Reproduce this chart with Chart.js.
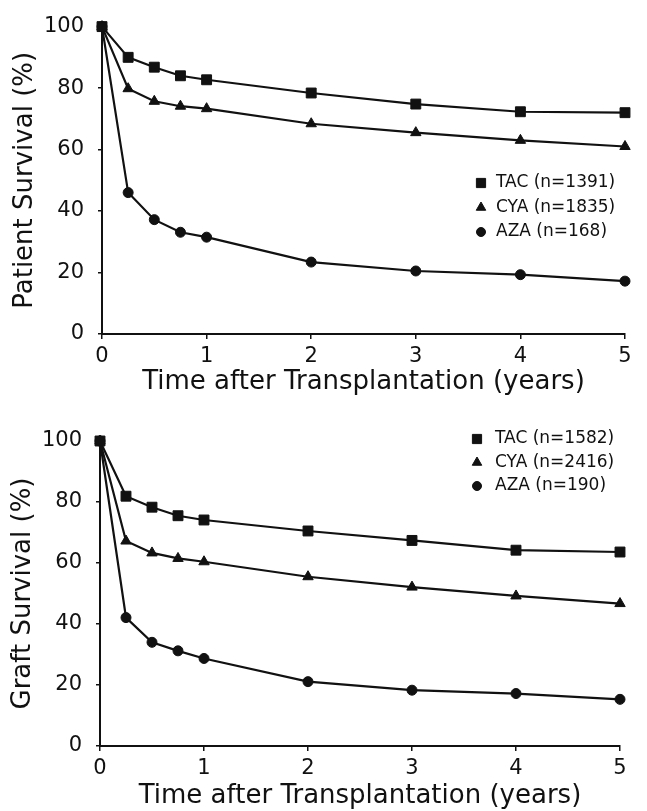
<!DOCTYPE html>
<html>
<head>
<meta charset="utf-8">
<script src="https://cdn.jsdelivr.net/npm/chart.js@4.4.1/dist/chart.umd.min.js"></script>
<style>
  html, body { margin: 0; padding: 0; background: #fff; }
  #wrap { position: relative; width: 647px; height: 811px; }
  canvas { position: absolute; left: 0; }
</style>
</head>
<body>
<div id="wrap">
  <canvas id="chartPatient" width="647" height="400" style="top:0"></canvas>
  <canvas id="chartGraft" width="647" height="411" style="top:400px"></canvas>
</div>
<script>
// data
const years = [0, 0.25, 0.5, 0.75, 1, 2, 3, 4, 5];
const xTicks = [0, 1, 2, 3, 4, 5];
const yTicks = [0, 20, 40, 60, 80, 100];

const patientTAC = [100, 90.0, 86.8, 84.0, 82.7, 78.4, 74.8, 72.3, 72.0];
const patientCYA = [100, 79.8, 75.7, 74.1, 73.3, 68.4, 65.5, 63.0, 61.0];
const patientAZA = [100, 46.0, 37.2, 33.1, 31.5, 23.4, 20.5, 19.3, 17.2];
const patientLabels = ["TAC (n=1391)", "CYA (n=1835)", "AZA (n=168)"];

const graftTAC = [100, 81.9, 78.3, 75.5, 74.1, 70.5, 67.4, 64.2, 63.6];
const graftCYA = [100, 67.2, 63.3, 61.5, 60.4, 55.5, 52.1, 49.2, 46.7];
const graftAZA = [100, 42.1, 34.0, 31.2, 28.7, 21.1, 18.3, 17.2, 15.3];
const graftLabels = ["TAC (n=1582)", "CYA (n=2416)", "AZA (n=190)"];

const INK = "#111";
const FONT = "'DejaVu Sans', sans-serif";

function pts(vals) {
  return years.map((x, i) => ({ x, y: vals[i] }));
}

function series(label, vals, style, radius) {
  return {
    label,
    data: pts(vals),
    borderColor: INK,
    backgroundColor: INK,
    borderWidth: 2.2,
    tension: 0,
    pointStyle: style,
    pointRadius: radius,
    pointBorderWidth: 1,
    pointBorderColor: INK,
    pointBackgroundColor: INK,
    clip: false
  };
}

// legend drawn inside the plot area
const inlineLegend = {
  id: "inlineLegend",
  afterDatasetsDraw(chart, args, opts) {
    const ctx = chart.ctx;
    ctx.save();
    ctx.fillStyle = INK;
    ctx.strokeStyle = INK;
    ctx.lineWidth = 1;
    ctx.font = "17px " + FONT;
    ctx.textBaseline = "middle";
    ctx.textAlign = "left";
    chart.data.datasets.forEach((ds, i) => {
      const y = opts.y + i * opts.gap;
      Chart.helpers.drawPoint(ctx, {
        pointStyle: ds.pointStyle,
        radius: ds.pointRadius - 0.5,
        borderWidth: 1,
        rotation: 0
      }, opts.markerX, y);
      ctx.fillText(ds.label, opts.textX, y);
    });
    ctx.restore();
  }
};

function makeChart(id, cfg) {
  const H = cfg.height;
  return new Chart(document.getElementById(id), {
    type: "line",
    data: {
      datasets: [
        series(cfg.labels[0], cfg.tac, "rect", 7),
        series(cfg.labels[1], cfg.cya, "triangle", 6),
        series(cfg.labels[2], cfg.aza, "circle", 5)
      ]
    },
    options: {
      responsive: false,
      animation: false,
      layout: { padding: { top: cfg.top, right: 647 - cfg.right, left: 0, bottom: 0 } },
      scales: {
        x: {
          type: "linear",
          min: 0,
          max: 5,
          afterFit: s => { s.height = H - cfg.bottom; },
          afterBuildTicks: s => { s.ticks = xTicks.map(v => ({ value: v })); },
          grid: { drawOnChartArea: false, drawTicks: true, tickLength: 5, color: INK, lineWidth: 1.5 },
          border: { display: true, color: INK, width: 2 },
          ticks: { color: INK, font: { family: FONT, size: 21 }, padding: 5, maxRotation: 0 },
          title: {
            display: true,
            text: "Time after Transplantation (years)",
            color: INK,
            font: { family: FONT, size: 26, lineHeight: 1 },
            padding: { top: 0, bottom: cfg.xTitlePad }
          }
        },
        y: {
          min: 0,
          max: 100,
          afterFit: s => { s.width = cfg.left; },
          afterBuildTicks: s => { s.ticks = yTicks.map(v => ({ value: v })); },
          grid: { drawOnChartArea: false, drawTicks: true, tickLength: 4, color: INK, lineWidth: 1.5 },
          border: { display: true, color: INK, width: 2 },
          ticks: { color: INK, font: { family: FONT, size: 21 }, padding: 14 },
          title: {
            display: true,
            text: cfg.yTitle,
            color: INK,
            font: { family: FONT, size: 26, lineHeight: 1 },
            padding: { top: cfg.yTitlePad, bottom: 0 }
          }
        }
      },
      plugins: {
        legend: { display: false },
        tooltip: { enabled: false },
        inlineLegend: cfg.legend
      }
    },
    plugins: [inlineLegend]
  });
}

makeChart("chartPatient", {
  height: 400, top: 24, bottom: 334, left: 102, right: 625,
  tac: patientTAC, cya: patientCYA, aza: patientAZA,
  labels: patientLabels,
  yTitle: "Patient Survival (%)", yTitlePad: 12, xTitlePad: 5,
  legend: { markerX: 481, textX: 496, y: 183, gap: 24.5 }
});

makeChart("chartGraft", {
  height: 411, top: 41, bottom: 346, left: 100, right: 620,
  tac: graftTAC, cya: graftCYA, aza: graftAZA,
  labels: graftLabels,
  yTitle: "Graft Survival (%)", yTitlePad: 10, xTitlePad: 2,
  legend: { markerX: 477, textX: 495, y: 39, gap: 23.5 }
});
</script>
</body>
</html>
